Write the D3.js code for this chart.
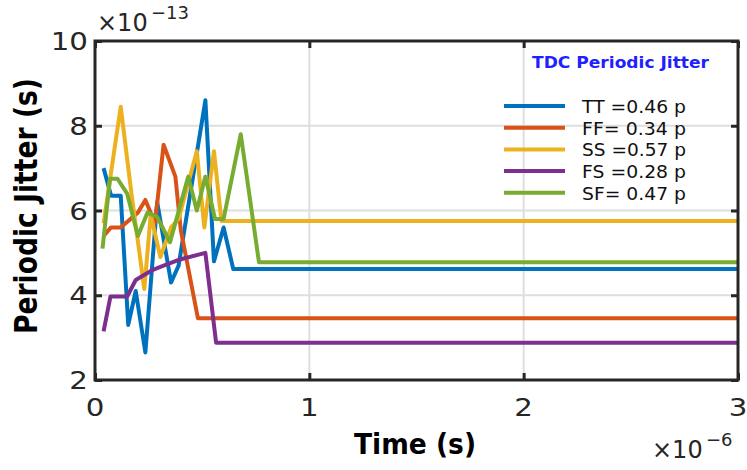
<!DOCTYPE html>
<html>
<head>
<meta charset="utf-8">
<script src="https://cdn.jsdelivr.net/npm/d3@7"></script>
<style>
  body { margin: 0; background: #fff; }
  svg { display: block; font-family: "DejaVu Sans", sans-serif; }
</style>
</head>
<body>
<div id="chart"></div>
<script>
// time in units of 1e-6 s, jitter in units of 1e-13 s
const ttTime   = [0.04, 0.075, 0.12, 0.155, 0.19, 0.235, 0.29, 0.355, 0.39, 0.515, 0.555, 0.60, 0.645, 3.0];
const ttJitter = [7.0, 6.35, 6.35, 3.3, 4.1, 2.65, 6.2, 4.3, 4.7, 8.6, 4.8, 5.6, 4.62, 4.62];

const ffTime   = [0.04, 0.075, 0.12, 0.20, 0.235, 0.28, 0.32, 0.375, 0.40, 0.48, 3.0];
const ffJitter = [5.4, 5.6, 5.6, 5.95, 6.25, 5.7, 7.55, 6.8, 5.55, 3.46, 3.46];

const ssTime   = [0.04, 0.12, 0.17, 0.23, 0.26, 0.305, 0.355, 0.39, 0.475, 0.51, 0.555, 0.59, 3.0];
const ssJitter = [5.7, 8.45, 6.4, 4.15, 5.9, 4.9, 5.6, 5.8, 7.4, 5.6, 7.4, 5.75, 5.75];

const fsTime   = [0.04, 0.072, 0.15, 0.19, 0.27, 0.32, 0.40, 0.515, 0.565, 3.0];
const fsJitter = [3.15, 3.97, 3.97, 4.36, 4.6, 4.7, 4.85, 5.0, 2.88, 2.88];

const sfTime   = [0.035, 0.07, 0.105, 0.15, 0.20, 0.245, 0.29, 0.35, 0.435, 0.475, 0.515, 0.56, 0.60, 0.68, 0.765, 3.0];
const sfJitter = [5.1, 6.75, 6.75, 6.4, 5.4, 5.95, 5.85, 5.25, 6.8, 6.0, 6.8, 5.8, 5.8, 7.8, 4.78, 4.78];

const seriesLabels = ["TT =0.46 p", "FF= 0.34 p", "SS =0.57 p", "FS =0.28 p", "SF= 0.47 p"];
const seriesColors = ["#0072bd", "#d95319", "#edb120", "#7e2f8e", "#77ac30"];
const legendTitle = "TDC Periodic Jitter";

const xTicks = [0, 1, 2, 3];
const yTicks = [2, 4, 6, 8, 10];

const width = 747, height = 470;
const margin = { top: 41, right: 9, bottom: 90, left: 95 };
const iw = width - margin.left - margin.right;
const ih = height - margin.top - margin.bottom;
const ink = "#262626";

const series = [
  [ttTime, ttJitter], [ffTime, ffJitter], [ssTime, ssJitter],
  [fsTime, fsJitter], [sfTime, sfJitter]
].map(([t, j], i) => ({
  label: seriesLabels[i],
  color: seriesColors[i],
  points: t.map((d, k) => [d, j[k]])
}));

const svg = d3.select("#chart").append("svg")
  .attr("width", width)
  .attr("height", height);

const g = svg.append("g")
  .attr("transform", `translate(${margin.left},${margin.top})`);

const x = d3.scaleLinear().domain([0, 3]).range([0, iw]);
const y = d3.scaleLinear().domain([2, 10]).range([ih, 0]);

// grid
g.selectAll("line.xgrid")
  .data(xTicks.slice(1, -1))
  .enter().append("line")
  .attr("class", "xgrid")
  .attr("x1", d => x(d)).attr("x2", d => x(d))
  .attr("y1", 0).attr("y2", ih)
  .attr("stroke", "#dedede").attr("stroke-width", 2);

g.selectAll("line.ygrid")
  .data(yTicks.slice(1, -1))
  .enter().append("line")
  .attr("class", "ygrid")
  .attr("y1", d => y(d)).attr("y2", d => y(d))
  .attr("x1", 0).attr("x2", iw)
  .attr("stroke", "#dedede").attr("stroke-width", 2);

// lines
const line = d3.line().x(d => x(d[0])).y(d => y(d[1]));

g.selectAll("path.series")
  .data(series)
  .enter().append("path")
  .attr("class", "series")
  .attr("d", d => line(d.points))
  .attr("fill", "none")
  .attr("stroke", d => d.color)
  .attr("stroke-width", 4)
  .attr("stroke-linejoin", "round");

// axes (ticks inside, on all four sides)
const tickLen = 7;
const axisStyle = sel => {
  sel.select(".domain").remove();
  sel.selectAll(".tick line").attr("stroke", ink).attr("stroke-width", 3);
  sel.selectAll(".tick text").remove();
};
g.append("g").attr("transform", `translate(0,${ih})`)
  .call(d3.axisTop(x).tickValues(xTicks).tickSize(tickLen)).call(axisStyle);
g.append("g")
  .call(d3.axisBottom(x).tickValues(xTicks).tickSize(tickLen)).call(axisStyle);
g.append("g")
  .call(d3.axisRight(y).tickValues(yTicks).tickSize(tickLen)).call(axisStyle);
g.append("g").attr("transform", `translate(${iw},0)`)
  .call(d3.axisLeft(y).tickValues(yTicks).tickSize(tickLen)).call(axisStyle);

// frame
g.append("rect")
  .attr("width", iw).attr("height", ih)
  .attr("fill", "none")
  .attr("stroke", ink).attr("stroke-width", 3);

// tick labels (source image is stretched horizontally)
const sx = 1.22;
g.selectAll("g.xlab")
  .data(xTicks)
  .enter().append("g")
  .attr("class", "xlab")
  .attr("transform", d => `translate(${x(d)},${ih + 36}) scale(${sx},1)`)
  .append("text")
  .attr("text-anchor", "middle")
  .attr("font-size", 24)
  .attr("fill", ink)
  .text(d3.format("d"));

g.selectAll("g.ylab")
  .data(yTicks)
  .enter().append("g")
  .attr("class", "ylab")
  .attr("transform", d => `translate(-7,${y(d) + 9}) scale(${sx},1)`)
  .append("text")
  .attr("text-anchor", "end")
  .attr("font-size", 24)
  .attr("fill", ink)
  .text(d3.format("d"));

// exponent labels
const expo = (px, py, base, sup) => {
  const e = svg.append("g").attr("transform", `translate(${px},${py})`);
  e.append("text").attr("font-size", 24).attr("fill", ink).text(base);
  e.append("text").attr("x", 54).attr("y", -12).attr("font-size", 18).attr("fill", ink).text(sup);
};
expo(97, 31, "\u00d710", "\u221213");
expo(652, 458, "\u00d710", "\u22126");

// axis titles
svg.append("text")
  .attr("x", 415).attr("y", 454)
  .attr("text-anchor", "middle")
  .attr("font-size", 28).attr("font-weight", "bold")
  .attr("fill", "#000")
  .attr("textLength", 122).attr("lengthAdjust", "spacingAndGlyphs")
  .text("Time (s)");

svg.append("text")
  .attr("transform", "translate(37,206) rotate(-90)")
  .attr("text-anchor", "middle")
  .attr("font-size", 32).attr("font-weight", "bold")
  .attr("fill", "#000")
  .attr("textLength", 256).attr("lengthAdjust", "spacingAndGlyphs")
  .text("Periodic Jitter (s)");

// legend
svg.append("text")
  .attr("x", 532).attr("y", 68)
  .attr("font-size", 15).attr("font-weight", "bold")
  .attr("fill", "#1f1fff")
  .attr("textLength", 177).attr("lengthAdjust", "spacingAndGlyphs")
  .text(legendTitle);

const legend = svg.selectAll("g.legend")
  .data(series)
  .enter().append("g")
  .attr("class", "legend")
  .attr("transform", (d, i) => `translate(504,${106 + i * 21.7})`);

legend.append("line")
  .attr("x1", 0).attr("x2", 61)
  .attr("stroke", d => d.color)
  .attr("stroke-width", 4);

legend.append("text")
  .attr("x", 78).attr("y", 7)
  .attr("font-size", 18)
  .attr("fill", "#111")
  .attr("textLength", 104).attr("lengthAdjust", "spacingAndGlyphs")
  .text(d => d.label);
</script>
</body>
</html>
